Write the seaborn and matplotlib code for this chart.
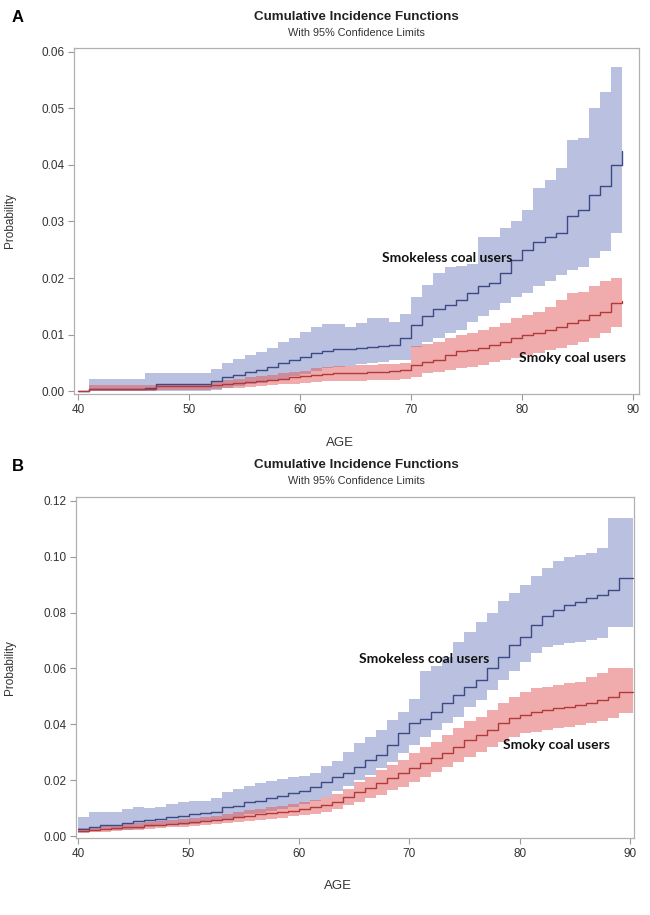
import matplotlib
matplotlib.use("Agg")
import matplotlib.pyplot as plt
import seaborn as sns

# ---- Panel A data (step starts, last entry is where the curve ends) ----
ages_a = [40, 41, 46, 47, 52, 53, 54, 55, 56, 57, 58, 59, 60, 61, 62, 63, 64, 65, 66, 67, 68,
          69, 70, 71, 72, 73, 74, 75, 76, 77, 78, 79, 80, 81, 82, 83, 84, 85, 86, 87, 88, 89]

smokeless_a = [0.0, 0.0003, 0.0006, 0.0012, 0.0017, 0.0024, 0.0028, 0.0034, 0.0038, 0.0043, 0.0049,
               0.0055, 0.0060, 0.0067, 0.0071, 0.0074, 0.0075, 0.0076, 0.0078, 0.0080, 0.0081,
               0.0093, 0.0117, 0.0132, 0.0145, 0.0152, 0.0161, 0.0173, 0.0185, 0.0192, 0.0208,
               0.0232, 0.0250, 0.0264, 0.0272, 0.0279, 0.0309, 0.0320, 0.0347, 0.0362, 0.0400, 0.0425]
smokeless_a_hi = [0.0, 0.0021, 0.0032, 0.0032, 0.0039, 0.0049, 0.0056, 0.0064, 0.0069, 0.0076, 0.0086,
                  0.0093, 0.0105, 0.0113, 0.0119, 0.0119, 0.0113, 0.0120, 0.0129, 0.0129, 0.0123,
                  0.0137, 0.0167, 0.0188, 0.0208, 0.0220, 0.0222, 0.0225, 0.0273, 0.0273, 0.0288,
                  0.0300, 0.0320, 0.0359, 0.0373, 0.0394, 0.0444, 0.0447, 0.0500, 0.0530, 0.0574, 0.0600]
smokeless_a_lo = [0.0, 0.0, 0.0, 0.0, 0.0002, 0.0005, 0.0008, 0.0012, 0.0015, 0.0019, 0.0022,
                  0.0026, 0.0030, 0.0035, 0.0040, 0.0043, 0.0045, 0.0048, 0.0050, 0.0052, 0.0055,
                  0.0055, 0.0078, 0.0087, 0.0093, 0.0102, 0.0108, 0.0123, 0.0132, 0.0143, 0.0155,
                  0.0167, 0.0173, 0.0185, 0.0194, 0.0205, 0.0214, 0.0220, 0.0235, 0.0247, 0.0280, 0.0280]

smoky_a = [0.0, 0.0003, 0.0003, 0.0008, 0.0010, 0.0012, 0.0014, 0.0016, 0.0018, 0.0020, 0.0022,
           0.0024, 0.0026, 0.0028, 0.0030, 0.0031, 0.0032, 0.0032, 0.0033, 0.0034, 0.0035,
           0.0037, 0.0046, 0.0052, 0.0055, 0.0064, 0.0070, 0.0073, 0.0076, 0.0081, 0.0087,
           0.0093, 0.0099, 0.0103, 0.0108, 0.0114, 0.0120, 0.0126, 0.0135, 0.0140, 0.0155, 0.0160]
smoky_a_hi = [0.0, 0.0010, 0.0010, 0.0013, 0.0018, 0.0020, 0.0022, 0.0025, 0.0027, 0.0029, 0.0031,
              0.0034, 0.0036, 0.0040, 0.0042, 0.0044, 0.0045, 0.0046, 0.0046, 0.0047, 0.0048,
              0.0050, 0.0080, 0.0084, 0.0087, 0.0093, 0.0099, 0.0103, 0.0108, 0.0114, 0.0120,
              0.0129, 0.0135, 0.0140, 0.0149, 0.0161, 0.0173, 0.0176, 0.0185, 0.0194, 0.0200, 0.0210]
smoky_a_lo = [0.0, 0.0, 0.0, 0.0002, 0.0004, 0.0005, 0.0006, 0.0007, 0.0009, 0.0010, 0.0012,
              0.0013, 0.0015, 0.0016, 0.0018, 0.0018, 0.0018, 0.0018, 0.0019, 0.0019, 0.0020,
              0.0021, 0.0025, 0.0031, 0.0034, 0.0037, 0.0040, 0.0043, 0.0046, 0.0052, 0.0055,
              0.0058, 0.0064, 0.0067, 0.0073, 0.0076, 0.0081, 0.0087, 0.0093, 0.0102, 0.0114, 0.0114]

# ---- Panel B data ----
ages_b = [40, 41, 42, 43, 44, 45, 46, 47, 48, 49, 50, 51, 52, 53, 54, 55, 56, 57, 58, 59,
          60, 61, 62, 63, 64, 65, 66, 67, 68, 69, 70, 71, 72, 73, 74, 75, 76, 77, 78, 79,
          80, 81, 82, 83, 84, 85, 86, 87, 88, 89, 90.3]

smokeless_b = [0.0026, 0.0034, 0.0038, 0.0041, 0.0046, 0.0052, 0.0056, 0.0062, 0.0067, 0.0073,
               0.0077, 0.0082, 0.0085, 0.0103, 0.0109, 0.0121, 0.0127, 0.0136, 0.0144, 0.0153,
               0.0162, 0.0174, 0.0192, 0.0210, 0.0226, 0.0248, 0.0272, 0.0290, 0.0326, 0.0368,
               0.0404, 0.0420, 0.0445, 0.0475, 0.0505, 0.0535, 0.0559, 0.0600, 0.0640, 0.0684,
               0.0714, 0.0756, 0.0786, 0.0810, 0.0827, 0.0839, 0.0851, 0.0863, 0.0881, 0.0923, 0.0923]
smokeless_b_hi = [0.0067, 0.0085, 0.0085, 0.0085, 0.0097, 0.0103, 0.0100, 0.0103, 0.0115, 0.0121,
                  0.0127, 0.0127, 0.0136, 0.0156, 0.0168, 0.0180, 0.0188, 0.0198, 0.0204, 0.0210,
                  0.0215, 0.0227, 0.0251, 0.0269, 0.0300, 0.0332, 0.0356, 0.0380, 0.0415, 0.0445,
                  0.0490, 0.0590, 0.0610, 0.0640, 0.0696, 0.0730, 0.0765, 0.0800, 0.0840, 0.0870,
                  0.0900, 0.0930, 0.0960, 0.0985, 0.1000, 0.1006, 0.1015, 0.1030, 0.1138, 0.1138, 0.1138]
smokeless_b_lo = [0.0014, 0.0018, 0.0022, 0.0022, 0.0022, 0.0026, 0.0032, 0.0036, 0.0038, 0.0041,
                  0.0044, 0.0050, 0.0053, 0.0062, 0.0067, 0.0077, 0.0082, 0.0091, 0.0097, 0.0103,
                  0.0115, 0.0127, 0.0138, 0.0160, 0.0178, 0.0200, 0.0218, 0.0242, 0.0266, 0.0296,
                  0.0326, 0.0356, 0.0380, 0.0404, 0.0427, 0.0463, 0.0487, 0.0523, 0.0559, 0.0589,
                  0.0624, 0.0654, 0.0678, 0.0684, 0.0690, 0.0696, 0.0702, 0.0708, 0.0750, 0.0750, 0.0750]

smoky_b = [0.0018, 0.0022, 0.0026, 0.0028, 0.0032, 0.0034, 0.0038, 0.0040, 0.0044, 0.0046,
           0.0050, 0.0052, 0.0056, 0.0062, 0.0067, 0.0073, 0.0077, 0.0082, 0.0086, 0.0091,
           0.0097, 0.0103, 0.0111, 0.0121, 0.0138, 0.0159, 0.0171, 0.0189, 0.0207, 0.0224,
           0.0242, 0.0260, 0.0278, 0.0296, 0.0320, 0.0344, 0.0362, 0.0380, 0.0404, 0.0421,
           0.0433, 0.0445, 0.0451, 0.0457, 0.0463, 0.0469, 0.0475, 0.0487, 0.0499, 0.0517, 0.0517]
smoky_b_hi = [0.0028, 0.0032, 0.0036, 0.0038, 0.0043, 0.0046, 0.0050, 0.0053, 0.0057, 0.0060,
              0.0065, 0.0068, 0.0072, 0.0079, 0.0085, 0.0092, 0.0097, 0.0103, 0.0108, 0.0115,
              0.0123, 0.0130, 0.0139, 0.0150, 0.0170, 0.0195, 0.0213, 0.0236, 0.0254, 0.0272,
              0.0296, 0.0320, 0.0338, 0.0362, 0.0386, 0.0410, 0.0427, 0.0451, 0.0475, 0.0499,
              0.0517, 0.0529, 0.0535, 0.0541, 0.0547, 0.0553, 0.0571, 0.0583, 0.0600, 0.0600, 0.0600]
smoky_b_lo = [0.0010, 0.0013, 0.0016, 0.0018, 0.0021, 0.0023, 0.0026, 0.0028, 0.0031, 0.0033,
              0.0037, 0.0039, 0.0042, 0.0046, 0.0050, 0.0055, 0.0058, 0.0062, 0.0065, 0.0070,
              0.0075, 0.0080, 0.0086, 0.0095, 0.0110, 0.0123, 0.0135, 0.0147, 0.0165, 0.0177,
              0.0195, 0.0213, 0.0230, 0.0248, 0.0266, 0.0284, 0.0302, 0.0320, 0.0338, 0.0356,
              0.0368, 0.0374, 0.0380, 0.0386, 0.0392, 0.0398, 0.0404, 0.0410, 0.0421, 0.0439, 0.0439]

yticks_a = [0.00, 0.01, 0.02, 0.03, 0.04, 0.05, 0.06]
yticks_b = [0.00, 0.02, 0.04, 0.06, 0.08, 0.10, 0.12]
xticks = [40, 50, 60, 70, 80, 90]

BLUE_LINE = "#3c4a86"
BLUE_FILL = "#7482c2"
RED_LINE = "#b23a3a"
RED_FILL = "#e25a5a"

sns.set_style("white")
plt.rcParams["font.family"] = ["Liberation Sans", "DejaVu Sans"]

fig = plt.figure(figsize=(6.5, 9.15), dpi=100)
ax_a = fig.add_axes([0.1138, 0.5694, 0.8692, 0.3781])
ax_b = fig.add_axes([0.1169, 0.0842, 0.8585, 0.3727])


def draw_panel(ax, ages, s, s_lo, s_hi, k, k_lo, k_hi):
    ax.fill_between(ages, s_lo, s_hi, step="post", color=BLUE_FILL, alpha=0.5, lw=0)
    ax.fill_between(ages, k_lo, k_hi, step="post", color=RED_FILL, alpha=0.5, lw=0)
    sns.lineplot(x=ages, y=s, drawstyle="steps-post", color=BLUE_LINE, lw=1.0, ax=ax)
    sns.lineplot(x=ages, y=k, drawstyle="steps-post", color=RED_LINE, lw=1.0, ax=ax)
    ax.set_xticks(xticks)
    ax.set_xticklabels([str(t) for t in xticks])
    for sp in ax.spines.values():
        sp.set_color("#b0b0b0")
        sp.set_linewidth(0.9)
    ax.tick_params(axis="both", direction="out", length=4, width=0.8, color="#999999",
                   labelsize=8.5, labelcolor="#333333", bottom=True, left=True, pad=3)
    ax.set_xlabel("AGE", fontsize=9.5, color="#333333")
    ax.set_ylabel("Probability", fontsize=8.5, color="#333333")


draw_panel(ax_a, ages_a, smokeless_a, smokeless_a_lo, smokeless_a_hi,
           smoky_a, smoky_a_lo, smoky_a_hi)
ax_a.set_xlim(39.64, 90.5)
ax_a.set_ylim(-0.00053, 0.0607)
ax_a.set_yticks(yticks_a)
ax_a.set_yticklabels([f"{t:.2f}" for t in yticks_a])
ax_a.xaxis.set_label_coords(0.471, -0.124)
ax_a.yaxis.set_label_coords(-0.103, 0.5)

draw_panel(ax_b, ages_b, smokeless_b, smokeless_b_lo, smokeless_b_hi,
           smoky_b, smoky_b_lo, smoky_b_hi)
ax_b.set_xlim(39.8, 90.36)
ax_b.set_ylim(-0.0007, 0.1214)
ax_b.set_yticks(yticks_b)
ax_b.set_yticklabels([f"{t:.2f}" for t in yticks_b])
ax_b.xaxis.set_label_coords(0.47, -0.123)
ax_b.yaxis.set_label_coords(-0.1075, 0.5)

# curve labels
lab = dict(fontsize=10, fontweight="bold", family=["Lato", "DejaVu Sans"], color="#111111",
           va="center", ha="left")
ax_a.text(67.4, 0.0235, "Smokeless coal users", **lab)
ax_a.text(79.7, 0.0058, "Smoky coal users", **lab)
ax_b.text(65.4, 0.0634, "Smokeless coal users", **lab)
ax_b.text(78.5, 0.0326, "Smoky coal users", **lab)

# titles and panel letters
for top_px, letter in [(17, "A"), (465, "B")]:
    y = 1 - top_px / 915
    fig.text(0.549, y, "Cumulative Incidence Functions", ha="center", va="center",
             fontsize=9.6, fontweight="bold", color="#222222")
    fig.text(0.549, y - 16 / 915, "With 95% Confidence Limits", ha="center", va="center",
             fontsize=7.8, color="#333333")
    fig.text(18 / 650, y - 1 / 915, letter, ha="center", va="center",
             fontsize=12, fontweight="bold", color="black")

fig.savefig("out.png", dpi=100)
